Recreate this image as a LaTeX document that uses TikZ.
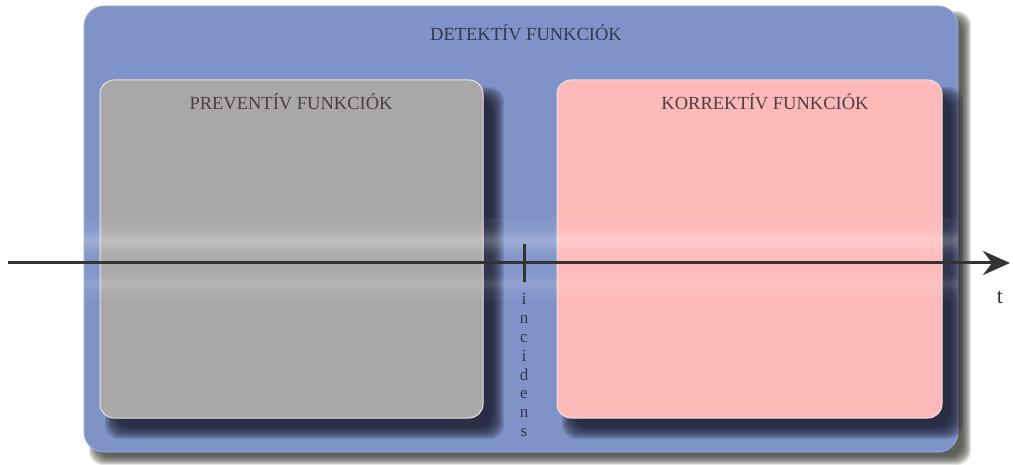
\documentclass[tikz,border=0pt]{standalone}
\usepackage{fontspec}
\setmainfont{Liberation Serif}
\usetikzlibrary{arrows.meta}
\definecolor{detblue}{HTML}{7F93C8}
\definecolor{prevgray}{HTML}{A9A7A8}
\definecolor{korpink}{HTML}{FFB9B8}
\definecolor{inkblue}{HTML}{34384E}
\definecolor{inkbrown}{HTML}{4A3F42}
\definecolor{axisgray}{HTML}{333333}
\definecolor{shadenavy}{HTML}{1C1E30}
\definecolor{shadegray}{HTML}{3A3A36}

% soft drop shadow: #1,#2 top-left, #3,#4 bottom-right, #5 colour, #6 blur, #7 layer opacity
\newcommand{\softshadow}[7]{%
  \foreach \k in {0,...,11}{%
    \pgfmathsetmacro{\dd}{#6*(1-\k/6)}%
    \fill[#5, opacity=#7, rounded corners=14pt] (#1-\dd,#2-\dd) rectangle (#3+\dd,#4+\dd);
  }%
}
\tikzset{
  outerbox/.style={fill=detblue, draw=detblue!75!white, line width=0.8pt, rounded corners=20pt},
  innerbox/.style={draw=white!80!gray, line width=1pt, rounded corners=14pt},
  title/.style={font=\fontsize{18.5}{20}\selectfont, anchor=center},
  timeaxis/.style={draw=axisgray, line width=3pt},
  tickmark/.style={draw=axisgray, line width=3pt},
}
\begin{document}
\begin{tikzpicture}[x=1pt, y=-1pt]
\useasboundingbox (0,0) rectangle (1013,465);

% outer frame: detective functions
\softshadow{94}{16}{966}{460}{shadegray}{5}{0.13}
\path[outerbox] (84,6) rectangle (958,452);
\node[title, text=inkblue] (det) at (526,33) {DETEKTÍV FUNKCIÓK};

% shadows of the two panels
\softshadow{112}{94}{497}{432}{shadenavy}{7}{0.14}
\softshadow{569}{94}{956}{432}{shadenavy}{7}{0.14}

% preventive and corrective panels
\path[innerbox, fill=prevgray] (100,80) rectangle (483,418);
\path[innerbox, fill=korpink] (557,80) rectangle (942,418);
\node[title, text=inkbrown] (prev) at (291,102) {PREVENTÍV FUNKCIÓK};
\node[title, text=inkbrown] (korr) at (765,102) {KORREKTÍV FUNKCIÓK};

% glossy horizontal highlight band, built from thin strips
\begin{scope}
  \clip[rounded corners=20pt] (84,6) rectangle (958,452);
  \foreach \yy in {218,220,...,298}{%
    \pgfmathsetmacro{\op}{0.04+0.20*exp(-((\yy-240)/9)^2)+0.10*exp(-((\yy-283)/6)^2)}%
    \fill[white, opacity=\op] (84,\yy) rectangle (958,\yy+2);
  }
\end{scope}

% time axis
\coordinate (tstart) at (8,263);
\coordinate (tend) at (1010,263);
\draw[timeaxis, -{Stealth[length=27pt, width=24pt, inset=9pt]}] (tstart) -- (tend);
\node[font=\fontsize{22}{24}\selectfont, text=axisgray] (t) at (1000,297) {t};

% incident marker
\coordinate (ticktop) at (524,244);
\coordinate (tickbot) at (524,282);
\draw[tickmark] (ticktop) -- (tickbot);
\node[anchor=north, text=inkblue, font=\fontsize{17}{18.9}\selectfont, align=center, inner sep=0pt]
  (inc) at (524,293) {i\\n\\c\\i\\d\\e\\n\\s};
\end{tikzpicture}
\end{document}
